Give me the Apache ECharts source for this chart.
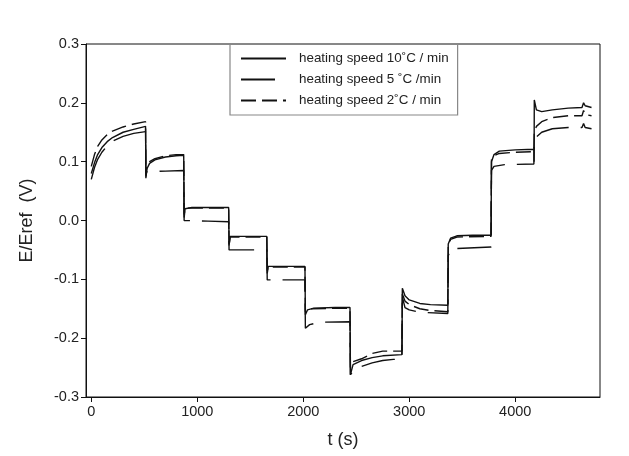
<!DOCTYPE html>
<html>
<head>
<meta charset="utf-8">
<script src="https://cdn.jsdelivr.net/npm/echarts@6/dist/echarts.min.js"></script>
<style>html,body{margin:0;padding:0;background:#fff}#c{width:629px;height:456px}</style>
</head>
<body>
<div id="c"></div>
<script>
var seriesNames = ['heating speed 10˚C / min', 'heating speed 5 ˚C /min', 'heating speed 2˚C / min'];
var xTicks = [0, 1000, 2000, 3000, 4000];
var yTicks = [-0.3, -0.2, -0.1, 0.0, 0.1, 0.2, 0.3];

var speed10 = [
  [0,0.080],[30,0.098],[60,0.112],[100,0.124],[150,0.134],[200,0.141],[300,0.150],[400,0.155],[512,0.160],
  [515,0.072],[525,0.088],[550,0.097],[600,0.103],[700,0.108],[800,0.110],[872,0.111],
  [876,0.005],[885,0.020],[950,0.022],[1100,0.022],[1296,0.022],
  [1300,-0.040],[1310,-0.027],[1450,-0.027],[1656,-0.027],
  [1660,-0.090],[1670,-0.078],[1800,-0.078],[2016,-0.078],
  [2020,-0.160],[2040,-0.152],[2100,-0.149],[2300,-0.148],[2441,-0.148],
  [2445,-0.262],[2470,-0.245],[2550,-0.238],[2650,-0.233],[2750,-0.230],[2931,-0.228],
  [2935,-0.115],[2960,-0.128],[3000,-0.135],[3100,-0.141],[3200,-0.143],[3364,-0.144],
  [3368,-0.040],[3390,-0.030],[3450,-0.026],[3600,-0.025],[3772,-0.025],
  [3776,0.100],[3800,0.112],[3850,0.118],[4000,0.120],[4176,0.121],
  [4178,0.100],[4180,0.205],[4200,0.188],[4250,0.185],[4350,0.188],[4500,0.191],[4630,0.192],[4645,0.200],[4660,0.195],[4720,0.192]
];
var speed5 = [
  [0,0.070],[30,0.090],[60,0.104],[100,0.116],[150,0.127],[200,0.135],[300,0.143],[400,0.148],[512,0.151],
  [515,0.078],[525,0.083],[700,0.084],[872,0.085],
  [876,0.000],[1100,-0.001],[1296,-0.002],
  [1300,-0.050],[1656,-0.050],
  [1660,-0.101],[2016,-0.101],
  [2020,-0.183],[2060,-0.177],[2150,-0.173],[2441,-0.172],
  [2445,-0.262],[2480,-0.255],[2550,-0.248],[2650,-0.242],[2750,-0.238],[2850,-0.236],[2931,-0.236],
  [2935,-0.130],[2960,-0.148],[3000,-0.152],[3100,-0.156],[3364,-0.158],
  [3368,-0.060],[3390,-0.048],[3772,-0.045],
  [3776,0.085],[3800,0.092],[3900,0.095],[4176,0.096],
  [4180,0.140],[4200,0.142],[4250,0.150],[4350,0.156],[4500,0.158],[4630,0.158],[4645,0.165],[4660,0.158],[4720,0.156]
];
var speed2 = [
  [0,0.092],[30,0.112],[60,0.126],[100,0.137],[150,0.146],[200,0.152],[300,0.159],[400,0.164],[512,0.168],
  [515,0.075],[525,0.092],[550,0.100],[600,0.105],[700,0.110],[800,0.112],[872,0.112],
  [876,0.010],[885,0.021],[1296,0.021],
  [1300,-0.045],[1310,-0.028],[1656,-0.028],
  [1660,-0.085],[1670,-0.079],[2016,-0.079],
  [2020,-0.155],[2040,-0.150],[2441,-0.149],
  [2445,-0.250],[2470,-0.240],[2550,-0.235],[2650,-0.226],[2750,-0.222],[2931,-0.222],
  [2935,-0.125],[2960,-0.137],[3000,-0.143],[3100,-0.150],[3200,-0.153],[3364,-0.155],
  [3368,-0.045],[3390,-0.032],[3450,-0.028],[3772,-0.027],
  [3776,0.105],[3800,0.110],[3850,0.114],[4000,0.116],[4176,0.117],
  [4180,0.150],[4200,0.160],[4250,0.168],[4350,0.175],[4500,0.178],[4630,0.178],[4645,0.187],[4660,0.180],[4720,0.178]
];

var font = '"Liberation Sans", Arial, sans-serif';
var chart = echarts.init(document.getElementById('c'), null, {renderer: 'canvas'});
function mk(name, data, type) {
  return {
    name: name, type: 'line', data: data, showSymbol: false, symbol: 'none',
    animation: false, smooth: false, color: '#111',
    itemStyle: {color: '#111'},
    lineStyle: {color: '#111', width: 1.4, type: type}
  };
}
chart.setOption({
  animation: false,
  backgroundColor: '#fff',
  grid: {left: 86, right: 29, top: 44, bottom: 59, show: true, borderColor: '#111', borderWidth: 1},
  legend: {
    orient: 'vertical', left: 230, top: 44,
    data: seriesNames,
    itemWidth: 45, itemHeight: 12, itemGap: 8,
    padding: [8, 9, 8, 10],
    borderColor: '#888', borderWidth: 1.2,
    itemStyle: {opacity: 0},
    textStyle: {fontFamily: font, fontSize: 13.4, color: '#222', padding: [0, 0, 0, 8]}
  },
  xAxis: {
    type: 'value', min: -50, max: 4800,
    name: 't (s)', nameLocation: 'middle', nameGap: 34,
    nameTextStyle: {fontFamily: font, fontSize: 18, color: '#222'},
    axisLine: {onZero: false, lineStyle: {color: '#111', width: 1}},
    axisTick: {show: true, length: 5, lineStyle: {color: '#111'}, customValues: xTicks},
    axisLabel: {fontFamily: font, fontSize: 14.5, color: '#222', margin: 7, customValues: xTicks,
      formatter: function (v) { return String(v); }},
    splitLine: {show: false}
  },
  yAxis: {
    type: 'value', min: -0.3, max: 0.3, interval: 0.1,
    name: 'E/Eref  (V)', nameLocation: 'middle', nameGap: 50,
    nameTextStyle: {fontFamily: font, fontSize: 18, color: '#222'},
    axisLine: {onZero: false, lineStyle: {color: '#111', width: 1}},
    axisTick: {show: true, length: 5, lineStyle: {color: '#111'}},
    axisLabel: {fontFamily: font, fontSize: 14.5, color: '#222', margin: 7, formatter: function (v) { return v.toFixed(1); }},
    splitLine: {show: false}
  },
  series: [
    mk(seriesNames[0], speed10, 'solid'),
    mk(seriesNames[1], speed5, [34, 12]),
    mk(seriesNames[2], speed2, [15, 6])
  ]
});
</script>
</body>
</html>
